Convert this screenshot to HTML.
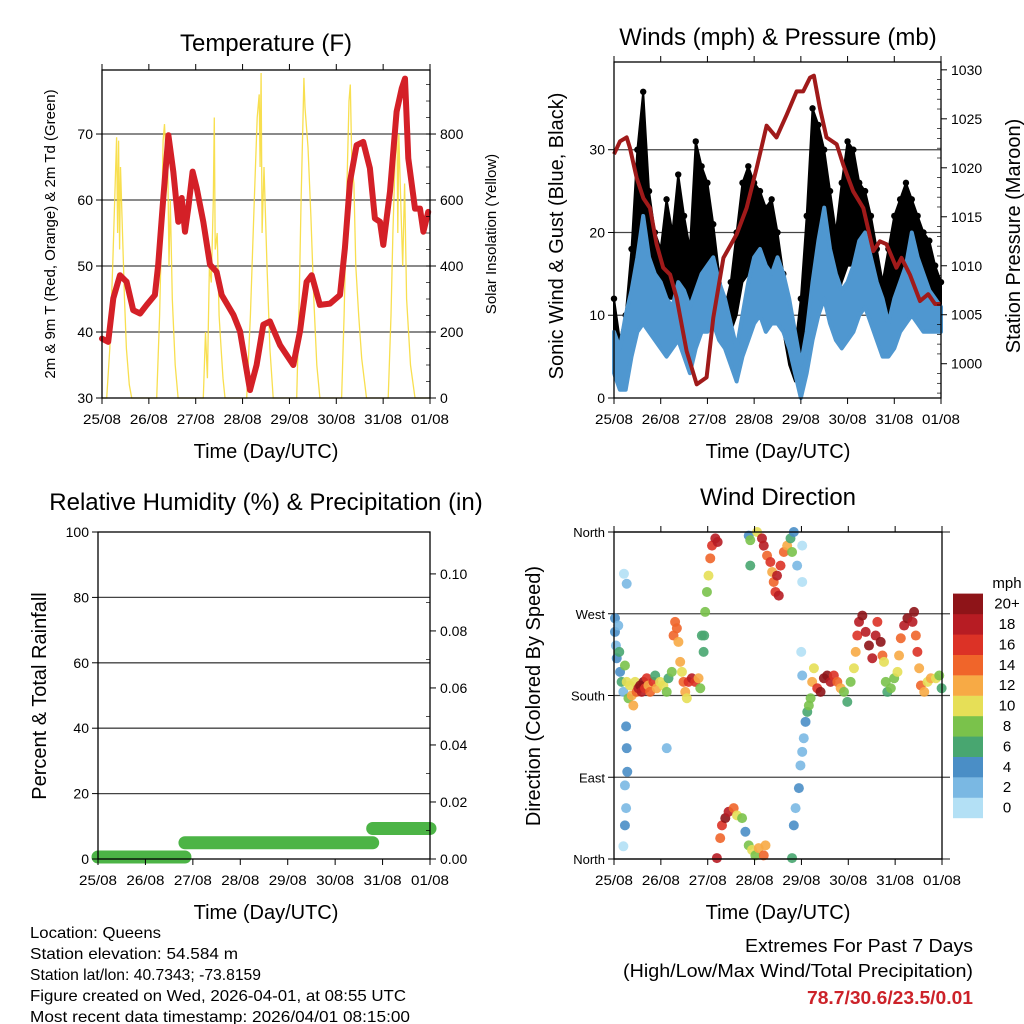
<!DOCTYPE html>
<html><head><meta charset="utf-8"><style>
html,body{margin:0;padding:0;background:#fff;}
svg{display:block;font-family:"Liberation Sans",Arial,sans-serif;}
</style></head><body>
<svg id="chart" width="1024" height="1024" viewBox="0 0 1024 1024" xmlns="http://www.w3.org/2000/svg">
<rect width="1024" height="1024" fill="#fff"/>
<g id="g1"></g>
<g id="g2"></g>
<g id="g3"></g>
<g id="g4"></g>
<g font-size="16" fill="#000">
<text x="30" y="938" textLength="131" lengthAdjust="spacingAndGlyphs">Location: Queens</text>
<text x="30" y="959" textLength="208" lengthAdjust="spacingAndGlyphs">Station elevation: 54.584 m</text>
<text x="30" y="980" textLength="231" lengthAdjust="spacingAndGlyphs">Station lat/lon: 40.7343; -73.8159</text>
<text x="30" y="1001" textLength="376" lengthAdjust="spacingAndGlyphs">Figure created on Wed, 2026-04-01, at 08:55 UTC</text>
<text x="30" y="1022" textLength="380" lengthAdjust="spacingAndGlyphs">Most recent data timestamp: 2026/04/01 08:15:00</text>
</g>
<g text-anchor="end">
<text x="973" y="952" font-size="18" textLength="228" lengthAdjust="spacingAndGlyphs">Extremes For Past 7 Days</text>
<text x="973" y="977" font-size="18" textLength="350" lengthAdjust="spacingAndGlyphs">(High/Low/Max Wind/Total Precipitation)</text>
<text x="973" y="1004" font-size="18" font-weight="bold" fill="#cc2229" textLength="166" lengthAdjust="spacingAndGlyphs">78.7/30.6/23.5/0.01</text>
</g>
</svg>
<script>
// ---------- DATA ----------
const dayLabels = ["25/08","26/08","27/08","28/08","29/08","30/08","31/08","01/08"];
const tempHours = [0,3.2,5.8,9.2,12.6,16.0,19.5,22.9,27.1,28.8,31.4,34.0,36.5,39.1,40.8,42.5,44.2,46.4,48.5,51.9,55.3,58.7,61.3,67.3,70.7,75.8,79.2,82.6,86.0,91.2,98.0,101.4,104.8,107.4,111.6,116.8,121.9,124.4,127.0,130.4,133.8,137.2,139.8,142.4,144.1,147.5,150.9,153.5,155.2,156.9,160.3,162.9,164.6,167.1];
const tempValues = [39.0,38.5,45.1,48.6,47.6,43.3,42.8,44.1,45.6,50.2,60.3,69.8,64.3,56.7,60.3,55.2,58.8,64.3,61.8,56.7,50.2,49.1,45.6,42.6,40.1,31.2,35.0,41.1,41.6,38.0,35.0,40.1,47.6,48.6,44.1,44.3,45.6,52.7,62.8,68.3,68.8,64.8,57.2,56.7,53.2,61.3,73.4,76.9,78.4,66.3,58.7,58.7,55.2,58.2];
const solarHours = [0,2.4,4,5.5,6.5,7.5,8,8.5,9,9.5,10.5,11.5,12.5,14,15.2,28,29.5,30.5,31.3,32,33,33.5,34.3,35,36,37.5,39,51.9,53,54,55,56,57,57.5,58,59,60,61,62,63,74.1,76,78,79.5,80.5,81,81.5,82,83,84.5,86,87.7,99.7,101,102,103,103.4,104,105.5,107,108.5,110,111.6,122.7,124,125.5,126.5,127.2,128,129,130,131.5,133,135.5,146.6,148,149,150,151,151.5,152,153,154,155,156,158,160.3,168];
const solarValues = [0,0,150,400,600,790,500,780,450,700,500,300,150,40,0,0,250,500,780,830,700,800,400,600,300,100,0,0,200,60,400,350,600,850,450,500,250,150,60,0,0,250,600,850,920,700,985,500,700,400,150,0,0,300,600,860,970,880,760,550,300,100,0,0,250,650,900,950,700,650,400,250,120,0,0,250,500,700,880,500,800,600,400,650,300,100,0,0];
const pressHours = [0,3.1,6.5,8.2,11.6,15.1,18.5,21.9,25.3,28.8,32.2,37.3,42.5,47.6,51.0,56.2,63.0,68.1,73.3,78.4,83.5,88.7,93.8,97.2,100.7,102.7,105.8,109.2,114.4,117.8,122.9,128.1,133.2,136.6,140.0,145.1,147.7,152.0,157.2,161.4,164.9,168];
const pressValues = [1021.4,1022.7,1023.1,1022.0,1019.0,1016.9,1015.9,1012.2,1009.8,1009.1,1006.7,1001.3,997.9,998.6,1004.7,1010.8,1013.2,1015.9,1020.0,1024.3,1023.1,1025.4,1027.8,1027.8,1029.2,1029.4,1026.1,1023.1,1022.4,1020.3,1017.6,1015.9,1011.5,1012.5,1012.2,1009.8,1010.8,1009.1,1006.4,1007.1,1006.1,1006.1];
const windHours = [0,3,6,9,12,15,18,21,24,27,30,33,36,39,42,45,48,51,54,57,60,63,66,69,72,75,78,81,84,87,90,93,96,99,102,105,108,111,114,117,120,123,126,129,132,135,138,141,144,147,150,153,156,159,162,165,168];
const windHi = [8,6,10,13,17,22,17,15,14,12,11,14,13,11,13,15,16,17,14,12,9,6,10,14,17,18,16,15,17,15,12,8,4,8,14,19,23,18,15,13,14,16,19,20,17,14,12,9,12,14,16,20,17,15,13,12,11];
const windLo = [3,1,1,5,8,9,8,7,6,5,6,7,5,3,6,8,8,9,7,6,4,2,5,7,9,10,8,9,9,8,6,3,0,3,7,10,12,9,7,6,7,8,10,11,9,7,5,5,6,8,9,10,9,8,8,8,8];
const gustHi = [12,7,10,18,30,37,25,20,18,24,20,27,22,18,31,28,26,21,15,11,14,20,26,28,26,25,23,24,20,15,8,6,12,22,35,33,30,25,20,26,31,30,26,25,22,18,14,18,22,24,26,24,22,20,19,16,14];
const gustLo = [6,3,4,9,14,16,14,12,11,12,12,14,10,9,14,15,15,13,10,6,8,10,14,15,16,15,14,13,12,8,4,2,4,10,16,18,17,13,11,14,16,16,14,13,11,9,8,10,12,13,14,13,12,11,11,10,10];
const precipHours = [0,44,44,139,139,168];
const precipValues = [0,0,0.005,0.005,0.01,0.01];
const dirHours = [0.5,0.5,1.0,1.4,2.2,2.7,3.1,3.9,4.8,5.6,6.5,7.4,8.2,9.1,9.9,10.8,11.6,12.5,13.4,14.2,15.1,15.9,16.8,17.6,18.5,20.2,21.1,21.9,23.6,25.3,27.0,27.9,29.6,30.5,31.3,32.2,33.0,33.9,34.8,35.6,36.5,37.3,38.2,39.9,41.6,43.3,44.2,45.9,46.2,46.7,47.6,48.4,49.3,50.2,51.9,53.1,
52.7,54.4,55.3,57.0,58.7,61.3,63.0,65.6,67.3,69.0,70.7,72.4,74.1,76.7,77.6,
69.0,69.8,69.8,73.3,75.8,76.7,78.4,80.1,81.0,81.8,82.7,84.4,83.5,85.3,87.0,88.7,90.4,91.2,92.1,93.8,96.4,96.4,
91.2,92.1,93.0,94.7,95.5,96.4,97.2,98.1,99.0,99.8,100.7,95.9,96.4,
5.1,6.5,6.2,6.5,6.8,5.6,6.2,5.6,4.8,27.0,45.0,
101.5,102.4,104.1,105.8,107.5,109.2,110.9,112.6,114.4,116.1,117.8,119.5,121.2,122.9,123.8,124.6,125.5,127.2,128.9,130.6,132.3,134.0,134.9,136.6,137.5,138.3,139.2,140.0,141.8,143.5,145.2,146.0,146.9,148.6,150.3,152.9,153.7,154.6,155.4,156.3,157.2,158.9,160.6,162.3,164.9,166.6,167.8];
const dirDeg = [265,250,235,221,257,228,206,195,184,213,195,177,191,180,169,195,184,188,191,184,195,188,199,191,184,195,202,188,195,191,184,199,206,246,261,254,239,217,206,195,184,177,195,199,195,199,188,228,246,272,294,312,331,345,353,349,
1,23,37,45,52,56,48,45,30,15,10,4,12,4,15,
356,351,323,360,353,345,334,327,316,305,294,290,312,323,338,345,353,338,360,323,345,305,
1,37,56,78,103,118,133,151,162,169,177,228,202,
314,303,146,122,96,81,56,37,14,122,246,
195,210,188,184,199,202,195,202,195,188,184,173,195,210,228,246,261,268,250,235,221,246,261,239,224,217,195,184,188,199,206,224,243,257,265,261,272,246,228,210,191,184,195,199,199,202,188];
const dirSpeed = [4,4,3,4,3,6,4,6,2,8,10,8,10,12,12,10,14,18,20,18,20,16,16,12,14,16,6,12,10,10,8,6,8,14,14,14,12,12,10,14,12,10,16,18,16,12,8,6,6,8,8,10,14,16,18,18,
18,14,16,20,18,14,10,8,4,8,10,8,12,14,12,
4,8,6,10,18,18,14,16,12,14,16,18,18,16,14,12,6,8,4,2,0,0,
6,4,2,4,2,2,2,4,6,8,8,0,2,
0,2,4,4,4,2,2,4,0,2,6,
12,10,16,20,20,20,18,16,14,12,8,6,8,10,12,16,18,20,18,20,18,18,16,20,14,10,8,6,8,8,10,12,14,18,20,18,20,14,16,12,14,12,10,12,10,8,6];
const speedColors = ["#b3e0f5","#7ab8e3","#4a8ec6","#48a670","#7ac24b","#e6df57","#f7aa45","#f0652a","#dc3226","#b71c23","#8e1418"];
const speedLabels = ["0","2","4","6","8","10","12","14","16","18","20+"];

// ---------- HELPERS ----------
const NS="http://www.w3.org/2000/svg";
function mk(parent,tag,attrs,text){const e=document.createElementNS(NS,tag);for(const k in attrs)e.setAttribute(k,attrs[k]);if(text!==undefined)e.textContent=text;parent.appendChild(e);return e;}
function lin(d0,d1,r0,r1){return v=>r0+(v-d0)/(d1-d0)*(r1-r0);}
function ptsStr(xs,ys,fx,fy){return xs.map((h,i)=>fx(h).toFixed(1)+","+fy(ys[i]).toFixed(1)).join(" ");}

function frame(g,x0,x1,y0,y1,fx,tickTop){
  for(let d=0;d<=7;d++){
    const x=fx(d*24);
    const t=mk(g,"line",{x1:x,x2:x,y1:y1,y2:y1+6,stroke:"#000","stroke-width":1});
    
    
    if(tickTop){const t2=mk(g,"line",{x1:x,x2:x,y1:y0,y2:y0-6,stroke:"#000","stroke-width":1});
      
      }
    const l=mk(g,"text",{x:x,y:y1+26,"font-size":14,"text-anchor":"middle",textLength:38,lengthAdjust:"spacingAndGlyphs"},dayLabels[d]);
    
    
  }
}
function box(g,x0,x1,y0,y1){
  const b=mk(g,"rect",{x:x0,y:y0,width:x1-x0,height:y1-y0,fill:"none",stroke:"#000","stroke-width":1.3});
  
  
}
function grid(g,x0,x1,y,len){
  const l=mk(g,"line",{x1:x0,x2:x1+(len||0),y1:y,y2:y,stroke:"#444","stroke-width":1.3});
  
  
}
function leftTick(g,x0,y,label,fs){
  const t=mk(g,"line",{x1:x0-6,x2:x0,y1:y,y2:y,stroke:"#000"});
  
  
  const l=mk(g,"text",{x:x0-9,y:y+5,"font-size":fs||14,"text-anchor":"end"},label);
  
  
}
function rightTick(g,x1,y,label,fs){
  const t=mk(g,"line",{x1:x1,x2:x1+6,y1:y,y2:y,stroke:"#000"});
  
  
  const l=mk(g,"text",{x:x1+10,y:y+5,"font-size":fs||14},label);
  
  
}
function title(g,x,y,txt,fs,name){
  const t=mk(g,"text",{x:x,y:y,"font-size":fs,"text-anchor":"middle"},txt);
  
  
}
function vtitle(g,x,y,txt,fs,name){
  const t=mk(g,"text",{x:0,y:0,"font-size":fs,"text-anchor":"middle",transform:`translate(${x},${y}) rotate(-90)`},txt);
  
  
}

// ---------- PANEL 1: TEMPERATURE ----------
(function(){
  const g=document.getElementById("g1");
  const x0=102,x1=430,y0=70,y1=398;
  const fx=lin(0,168,x0,x1), fy=lin(30,79.7,y1,y0), fs=lin(0,994,y1,y0);
  [40,50,60,70].forEach(v=>grid(g,x0,x1,fy(v)));
  const sol=mk(g,"polyline",{points:ptsStr(solarHours,solarValues,fx,fs),fill:"none",stroke:"#f7dc3c","stroke-width":1.3,"stroke-opacity":0.9});
  
  
  const tl=mk(g,"polyline",{points:ptsStr(tempHours,tempValues,fx,fy),fill:"none",stroke:"#d42027","stroke-width":6,"stroke-linejoin":"round","stroke-linecap":"round"});
  
  
  box(g,x0,x1,y0,y1);
  frame(g,x0,x1,y0,y1,fx,true);
  [30,40,50,60,70].forEach(v=>leftTick(g,x0,fy(v),String(v)));
  [0,200,400,600,800].forEach(v=>rightTick(g,x1,fs(v),String(v)));
  for(let v=50;v<994;v+=50){const m=mk(g,"line",{x1:x1-4,x2:x1,y1:fs(v),y2:fs(v),stroke:"#000","stroke-width":0.7});}
  title(g,266,51,"Temperature (F)",24,"temperature-title");
  title(g,266,458,"Time (Day/UTC)",20,"x-axis-title");
  vtitle(g,55,234,"2m & 9m T (Red, Orange) & 2m Td (Green)",15,"y-axis-title");
  vtitle(g,496,234,"Solar Insolation (Yellow)",15,"y2-axis-title");
})();

// ---------- PANEL 2: WINDS ----------
(function(){
  const g=document.getElementById("g2");
  const x0=614,x1=941,y0=62,y1=398;
  const fx=lin(0,168,x0,x1), fy=lin(0,40.6,y1,y0), fp=lin(996.5,1030.8,y1,y0);
  [10,20,30].forEach(v=>grid(g,x0,x1,fy(v)));
  const gustPts=windHours.map((h,i)=>fx(h)+","+fy(gustHi[i])).join(" ")+" "+windHours.slice().reverse().map((h,j)=>{const i=windHours.length-1-j;return fx(h)+","+fy(gustLo[i]);}).join(" ");
  const ga=mk(g,"polygon",{points:gustPts,fill:"#000","stroke":"#000","stroke-width":2,"stroke-linejoin":"round"});
  
  
  windHours.forEach((h,i)=>{
    const c=mk(g,"circle",{cx:fx(h),cy:fy(gustHi[i]),r:3.2,fill:"#000"});
    
    
  });
  const windPts=windHours.map((h,i)=>fx(h)+","+fy(windHi[i])).join(" ")+" "+windHours.slice().reverse().map((h,j)=>{const i=windHours.length-1-j;return fx(h)+","+fy(windLo[i]);}).join(" ");
  const wa=mk(g,"polygon",{points:windPts,fill:"#4f97d0",stroke:"#4f97d0","stroke-width":4,"stroke-linejoin":"round"});
  
  
  const pl=mk(g,"polyline",{points:ptsStr(pressHours,pressValues,fx,fp),fill:"none",stroke:"#a01a1a","stroke-width":4,"stroke-linejoin":"round"});
  
  
  box(g,x0,x1,y0,y1);
  frame(g,x0,x1,y0,y1,fx,true);
  [0,10,20,30].forEach(v=>leftTick(g,x0,fy(v),String(v)));
  [1000,1005,1010,1015,1020,1025,1030].forEach(v=>rightTick(g,x1,fp(v),String(v)));
  for(let v=997;v<=1030;v++){if(v%5){const m=mk(g,"line",{x1:x1-4,x2:x1,y1:fp(v),y2:fp(v),stroke:"#000","stroke-width":0.7});}}
  title(g,778,45,"Winds (mph) & Pressure (mb)",24,"winds-title");
  title(g,778,458,"Time (Day/UTC)",20,"x-axis-title");
  vtitle(g,563,236,"Sonic Wind & Gust (Blue, Black)",20,"y-axis-title");
  vtitle(g,1020,236,"Station Pressure (Maroon)",20,"y2-axis-title");
})();

// ---------- PANEL 3: HUMIDITY / PRECIP ----------
(function(){
  const g=document.getElementById("g3");
  const x0=98,x1=430,y0=532,y1=859;
  const fx=lin(0,168,x0,x1), fy=lin(0,100,y1,y0), fr=lin(0,0.1147,y1,y0);
  [20,40,60,80].forEach(v=>grid(g,x0,x1,fy(v)));
  for(let i=0;i<precipHours.length;i+=2){
    const s=mk(g,"line",{x1:fx(precipHours[i]),x2:fx(precipHours[i+1]),y1:fr(precipValues[i])-2,y2:fr(precipValues[i+1])-2,stroke:"#4cb446","stroke-width":13,"stroke-linecap":"round"});
    
    
  }
  box(g,x0,x1,y0,y1);
  frame(g,x0,x1,y0,y1,fx,false);
  [0,20,40,60,80,100].forEach(v=>leftTick(g,x0,fy(v),String(v)));
  [0,0.02,0.04,0.06,0.08,0.10].forEach(v=>rightTick(g,x1,fr(v),v.toFixed(2)));
  for(let v=0.01;v<0.11;v+=0.02){const m=mk(g,"line",{x1:x1-4,x2:x1,y1:fr(v),y2:fr(v),stroke:"#000","stroke-width":0.7});}
  title(g,266,510,"Relative Humidity (%) & Precipitation (in)",24,"humidity-title");
  title(g,266,919,"Time (Day/UTC)",20,"x-axis-title");
  vtitle(g,46,696,"Percent & Total Rainfall",20,"y-axis-title");
})();

// ---------- PANEL 4: WIND DIRECTION ----------
(function(){
  const g=document.getElementById("g4");
  const x0=614,x1=942,y0=532,y1=859;
  const fx=lin(0,168,x0,x1), fy=lin(0,360,y1,y0);
  const names=["North","East","South","West","North"];
  [90,180,270,360].forEach(v=>grid(g,x0,x1,fy(v),8));
  grid(g,x0,x1,fy(0),8);
  dirHours.forEach((h,i)=>{
    const ci=Math.min(10,Math.floor(dirSpeed[i]/2));
    const c=mk(g,"circle",{cx:fx(h),cy:fy(dirDeg[i]),r:5,fill:speedColors[ci],"fill-opacity":0.9});
    
    
  });
  box(g,x0,x1,y0,y1);
  frame(g,x0,x1,y0,y1,fx,true);
  [0,90,180,270,360].forEach((v,i)=>leftTick(g,x0,fy(v),names[i],13));
  speedColors.forEach((c,i)=>{
    const y=818-(i+1)*20.4;
    const r=mk(g,"rect",{x:953,y:y,width:30,height:20.6,fill:c});
    
    
    const t=mk(g,"text",{x:1007,y:y+15,"font-size":15,"text-anchor":"middle"},speedLabels[i]);
    
    
  });
  const u=mk(g,"text",{x:1007,y:588,"font-size":15,"text-anchor":"middle"},"mph");
  
  
  title(g,778,505,"Wind Direction",24,"wind-direction-title");
  title(g,778,919,"Time (Day/UTC)",20,"x-axis-title");
  vtitle(g,540,696,"Direction (Colored By Speed)",20,"y-axis-title");
})();
</script>
</body></html>
